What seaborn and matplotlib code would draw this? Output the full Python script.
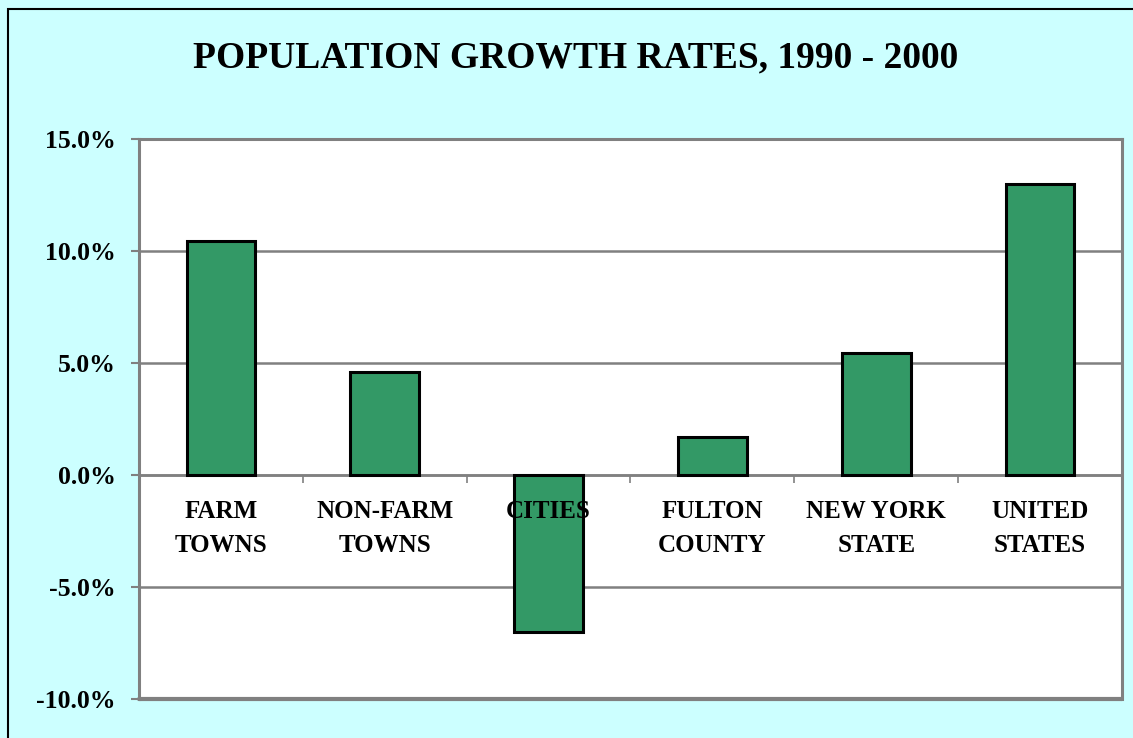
#Importing neccesary libraries
import seaborn as sns
import matplotlib.pyplot as plt
from matplotlib.patches import Rectangle
from matplotlib.ticker import FuncFormatter

# chart data
categories = ['FARM\nTOWNS', 'NON-FARM\nTOWNS', 'CITIES', 'FULTON\nCOUNTY', 'NEW YORK\nSTATE', 'UNITED\nSTATES']
growth = [10.45, 4.6, -7.0, 1.7, 5.45, 13.0]
yticks = [-10, -5, 0, 5, 10, 15]

sns.set_style('white')
plt.rcParams['font.family'] = ['Liberation Serif', 'DejaVu Serif']
plt.rcParams['font.weight'] = 'bold'
plt.rcParams['text.color'] = 'black'
plt.rcParams['xtick.labelcolor'] = 'black'
plt.rcParams['ytick.labelcolor'] = 'black'

fig = plt.figure(figsize=(11.33, 7.38), dpi=100, facecolor='#CCFFFF')
ax = fig.add_axes([139/1133, 1 - 699/738, (1122 - 139)/1133, (699 - 139)/738])
ax.set_facecolor('white')

# bars
sns.barplot(x=categories, y=growth, color='#339966', edgecolor='black',
            linewidth=2.2, width=0.42, saturation=1, ax=ax, zorder=3)

ax.set_ylim(-10, 15)
ax.set_yticks(yticks)
ax.yaxis.set_major_formatter(FuncFormatter(lambda v, p: '%.1f%%' % v))
ax.yaxis.grid(True, color='#808080', linewidth=1.8)
ax.set_axisbelow(True)
ax.xaxis.set_zorder(4)  # category names are written over the bars

# spines - bottom axis sits on the zero line
for s in ['left', 'right', 'top']:
    ax.spines[s].set_color('#808080')
    ax.spines[s].set_linewidth(2.2)
ax.spines['bottom'].set_position(('data', 0))
ax.spines['bottom'].set_color('#808080')
ax.spines['bottom'].set_linewidth(1.8)
ax.spines['bottom'].set_zorder(1)
ax.axhline(-10, color='#808080', linewidth=3, zorder=1, clip_on=False)

ax.tick_params(axis='y', direction='out', length=6, width=1.5, color='#808080',
               pad=11, labelsize=18.5, left=True)
ax.tick_params(axis='x', which='major', length=0, pad=18, labelsize=18)
ax.set_xticks([i + 0.5 for i in range(len(categories) - 1)], minor=True)
ax.tick_params(axis='x', which='minor', direction='out', length=6, width=1.2,
               color='#808080', bottom=True)
for lab in ax.get_xticklabels():
    lab.set_linespacing(1.6)
ax.set_xlabel('')

fig.text(0.508, 0.921, 'POPULATION GROWTH RATES, 1990 - 2000',
         ha='center', va='center', fontsize=27, fontweight='bold')

# outer frame of the chart area
fig.patches.append(Rectangle((8/1133, -0.1), 1.2, 1.1 - 9/738, transform=fig.transFigure,
                             fill=False, edgecolor='black', linewidth=1.5))

plt.savefig('out.png', dpi=100, facecolor=fig.get_facecolor())
